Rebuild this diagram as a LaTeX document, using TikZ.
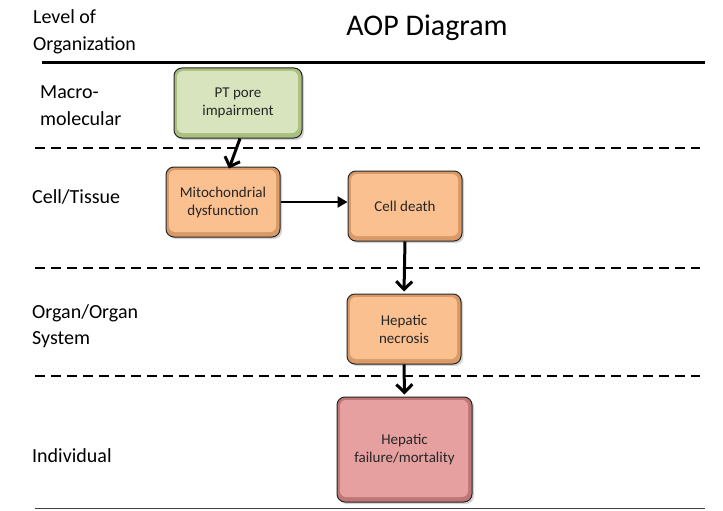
\documentclass[tikz,border=0pt]{standalone}
\usepackage{fontspec}
\setmainfont{Carlito}
\usetikzlibrary{arrows.meta,shadows}
\definecolor{greenfill}{HTML}{D7E4BD}
\definecolor{greenedge}{HTML}{A9C07E}
\definecolor{orangefill}{HTML}{FAC090}
\definecolor{orangeedge}{HTML}{D99A68}
\definecolor{pinkfill}{HTML}{E6A0A0}
\definecolor{pinkedge}{HTML}{BF7676}
\begin{document}
\begin{tikzpicture}[x=1pt,y=-1pt,
  lvl/.style={anchor=base west,font=\fontsize{20}{24}\selectfont,inner sep=0pt},
  evbox/.style n args={2}{draw=black!85,line width=1pt,rounded corners=8pt,fill=#2,
    drop shadow={opacity=0.35,shadow xshift=2pt,shadow yshift=-2pt},
    path picture={\fill[#1,rounded corners=6pt]
      ([shift={(3pt,-3pt)}]path picture bounding box.north west) rectangle
      ([shift={(-4pt,5pt)}]path picture bounding box.south east);},
    align=center,font=\fontsize{15}{18}\selectfont,text=black!85},
  dashline/.style={line width=2.4pt,dash pattern=on 10pt off 6pt},
  arr/.style={line width=3pt,-{Straight Barb[length=8pt,width=16pt,line width=3pt]}}
]
\useasboundingbox (0,0) rectangle (723,511);
% header
\node[lvl] (l1) at (33,24) {Level of};
\node[lvl] (l2) at (33,51) {Organization};
\node[font=\fontsize{30}{36}\selectfont] (title) at (427,28) {AOP Diagram};
\draw[line width=3pt] (42,63) -- (705,63);
\draw[dashline] (35,148) -- (700,148);
\draw[dashline] (35,268) -- (700,268);
\draw[dashline] (35,376) -- (700,376);
\draw[line width=1pt,black!75] (35,508.5) -- (705,508.5);
% level labels
\node[lvl] (m1) at (40,99) {Macro-};
\node[lvl] (m2) at (40,125) {molecular};
\node[lvl] (ct) at (32,203) {Cell/Tissue};
\node[lvl] (o1) at (32,318) {Organ/Organ};
\node[lvl] (o2) at (32,344) {System};
\node[lvl] (ind) at (32,462) {Individual};
% boxes
\node[evbox={greenfill}{greenedge},minimum width=128pt,minimum height=70pt] (pt) at (238,103) {PT pore\\impairment};
\node[evbox={orangefill}{orangeedge},minimum width=114pt,minimum height=70pt] (mito) at (223,202) {Mitochondrial\\dysfunction};
\node[evbox={orangefill}{orangeedge},minimum width=114pt,minimum height=70pt] (cd) at (405,206) {Cell death};
\node[evbox={orangefill}{orangeedge},minimum width=114pt,minimum height=70pt] (hn) at (404,329) {Hepatic\\necrosis};
\node[evbox={pinkfill}{pinkedge},minimum width=135pt,minimum height=105pt] (hf) at (404.5,449.5) {Hepatic\\failure/mortality};
% arrows
\draw[arr] ([xshift=2pt]pt.south) -- ([xshift=6pt,yshift=-2pt]mito.north);
\draw[line width=2.8pt,-{Triangle[length=10pt,width=11pt]}] (mito.east) -- (mito.east -| cd.west);
\draw[arr] (cd.south) -- ([yshift=2pt]hn.north);
\draw[arr] (hn.south) -- ([yshift=2pt]hf.north);
\end{tikzpicture}
\end{document}
